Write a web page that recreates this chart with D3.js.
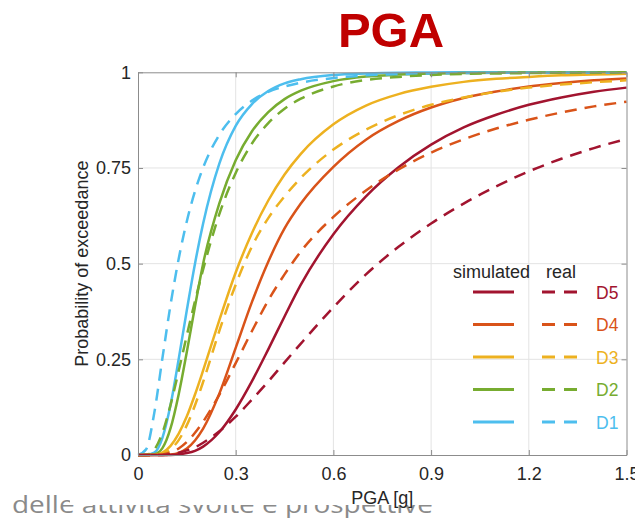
<!DOCTYPE html>
<html>
<head>
<meta charset="utf-8">
<script src="https://cdn.jsdelivr.net/npm/d3@7"></script>
<style>
	body { margin: 0; background: #fff; }
	svg { display: block; }
	.tick text { font-family: "Liberation Sans", Arial, sans-serif; }
</style>
</head>
<body>
<div id="graphicContainer"></div>
<script>

// PGA values along the x axis (g)
var pga = [0, 0.025, 0.05, 0.075, 0.1, 0.125, 0.15, 0.175, 0.2, 0.25, 0.3, 0.35, 0.4, 0.45, 0.5, 0.6, 0.7, 0.8, 0.9, 1.0, 1.1, 1.2, 1.3, 1.4, 1.5];

// probability of exceedance, simulated (solid) and real (dashed)
var d1Sim  = [0, 0, 0.006, 0.045, 0.131, 0.251, 0.379, 0.5, 0.605, 0.762, 0.86, 0.917, 0.951, 0.971, 0.982, 0.993, 0.997, 0.999, 0.9995, 1, 1, 1, 1, 1, 1];
var d1Real = [0, 0.015, 0.11, 0.253, 0.393, 0.513, 0.611, 0.689, 0.751, 0.837, 0.891, 0.926, 0.949, 0.963, 0.973, 0.985, 0.992, 0.995, 0.997, 0.998, 0.999, 0.999, 0.999, 0.999, 0.999];
var d2Sim  = [0, 0, 0.002, 0.018, 0.07, 0.159, 0.27, 0.388, 0.5, 0.658, 0.77, 0.846, 0.896, 0.93, 0.952, 0.977, 0.989, 0.994, 0.997, 0.998, 0.999, 0.9994, 0.9997, 0.9998, 0.9999];
var d2Real = [0, 0.0005, 0.014, 0.058, 0.131, 0.22, 0.313, 0.402, 0.485, 0.63, 0.737, 0.814, 0.867, 0.905, 0.931, 0.963, 0.98, 0.988, 0.993, 0.996, 0.997, 0.998, 0.999, 0.999, 0.9995];
var d3Sim  = [0, 0, 0.0007, 0.0064, 0.024, 0.056, 0.101, 0.158, 0.221, 0.353, 0.477, 0.58, 0.665, 0.733, 0.787, 0.864, 0.913, 0.943, 0.962, 0.975, 0.983, 0.988, 0.992, 0.994, 0.996];
var d3Real = [0, 0, 0.0002, 0.003, 0.015, 0.039, 0.078, 0.13, 0.191, 0.325, 0.445, 0.545, 0.619, 0.676, 0.724, 0.798, 0.85, 0.888, 0.915, 0.934, 0.949, 0.96, 0.968, 0.974, 0.979];
var d4Sim  = [0, 0, 0, 0, 0.0013, 0.0057, 0.017, 0.038, 0.069, 0.161, 0.28, 0.4, 0.505, 0.592, 0.657, 0.753, 0.824, 0.873, 0.908, 0.933, 0.95, 0.963, 0.972, 0.979, 0.984];
var d4Real = [0, 0, 0.0002, 0.0016, 0.0066, 0.017, 0.034, 0.058, 0.087, 0.158, 0.24, 0.324, 0.404, 0.472, 0.532, 0.622, 0.691, 0.746, 0.79, 0.825, 0.853, 0.876, 0.895, 0.911, 0.923];
var d5Sim  = [0, 0, 0, 0, 0.0003, 0.0015, 0.005, 0.011, 0.022, 0.06, 0.119, 0.193, 0.276, 0.362, 0.445, 0.577, 0.676, 0.752, 0.811, 0.856, 0.889, 0.915, 0.934, 0.949, 0.96];
var d5Real = [0, 0, 0, 0, 0.002, 0.006, 0.012, 0.02, 0.032, 0.062, 0.1, 0.145, 0.192, 0.242, 0.291, 0.386, 0.472, 0.544, 0.605, 0.657, 0.702, 0.741, 0.774, 0.802, 0.826];

var stateNames = ["D1", "D2", "D3", "D4", "D5"];
var stateColors = ["#4dbeee", "#77ac30", "#edb120", "#d95319", "#a2142f"];

var xTicks = [0, 0.3, 0.6, 0.9, 1.2, 1.5];
var yTicks = [0, 0.25, 0.5, 0.75, 1];

var states = [
	{name: "D1", sim: d1Sim, real: d1Real},
	{name: "D2", sim: d2Sim, real: d2Real},
	{name: "D3", sim: d3Sim, real: d3Real},
	{name: "D4", sim: d4Sim, real: d4Real},
	{name: "D5", sim: d5Sim, real: d5Real}
];

function makeChart() {

	var width = 635, height = 518;
	var margin = {top: 72.3, right: 8.5, bottom: 63, left: 138};

	var svg = d3.select("#graphicContainer").append("svg")
		.attr("width", width)
		.attr("height", height);

	// slide text sitting behind the chart image
	svg.append("text")
		.attr("x", 12)
		.attr("y", 513)
		.attr("font-family", "'Open Sans', sans-serif")
		.attr("font-size", 24)
		.attr("fill", "#8a8a8a")
		.attr("textLength", 421)
		.attr("lengthAdjust", "spacingAndGlyphs")
		.text("delle attività svolte e prospettive");

	svg.append("rect")
		.attr("x", 70).attr("y", 0)
		.attr("width", width - 70).attr("height", 505)
		.attr("fill", "#fff");

	var x = d3.scaleLinear()
		.domain([0, 1.5])
		.range([margin.left, width - margin.right]);

	var y = d3.scaleLinear()
		.domain([0, 1])
		.range([height - margin.bottom, margin.top]);

	var color = d3.scaleOrdinal()
		.domain(stateNames)
		.range(stateColors);

	// title
	svg.append("text")
		.attr("x", 391)
		.attr("y", 47)
		.attr("text-anchor", "middle")
		.attr("font-family", "'Liberation Sans', Arial, sans-serif")
		.attr("font-weight", "bold")
		.attr("font-size", 49)
		.attr("fill", "#c00000")
		.text("PGA");

	// grid
	var grid = svg.append("g").attr("stroke", "#e3e3e3").attr("stroke-width", 1);

	grid.selectAll(".gx")
		.data(xTicks.slice(1, -1))
		.enter().append("line")
		.attr("x1", d => x(d)).attr("x2", d => x(d))
		.attr("y1", y(0)).attr("y2", y(1));

	grid.selectAll(".gy")
		.data(yTicks.slice(1, -1))
		.enter().append("line")
		.attr("y1", d => y(d)).attr("y2", d => y(d))
		.attr("x1", x(0)).attr("x2", x(1.5));

	// curves
	var line = d3.line()
		.x((d, i) => x(pga[i]))
		.y(d => y(d))
		.curve(d3.curveMonotoneX);

	var curves = svg.append("g")
		.attr("fill", "none")
		.attr("stroke-width", 2.5)
		.attr("stroke-linejoin", "round");

	states.forEach(s => {
		curves.append("path")
			.attr("d", line(s.sim))
			.attr("stroke", color(s.name));
	});

	states.forEach(s => {
		curves.append("path")
			.attr("d", line(s.real))
			.attr("stroke", color(s.name))
			.attr("stroke-dasharray", "12,8");
	});

	// axes box with inward ticks
	var fmt = d3.format("~g");
	var axisColor = "#8c8c8c";

	var gx = svg.append("g")
		.attr("transform", "translate(0," + y(0) + ")")
		.call(d3.axisBottom(x).tickValues(xTicks).tickFormat(fmt).tickSizeInner(-5).tickSizeOuter(0).tickPadding(12));

	var gy = svg.append("g")
		.attr("transform", "translate(" + x(0) + ",0)")
		.call(d3.axisLeft(y).tickValues(yTicks).tickFormat(fmt).tickSizeInner(-5).tickSizeOuter(0).tickPadding(7));

	var gt = svg.append("g")
		.attr("transform", "translate(0," + y(1) + ")")
		.call(d3.axisTop(x).tickValues(xTicks).tickFormat("").tickSizeInner(-5).tickSizeOuter(0));

	var gr = svg.append("g")
		.attr("transform", "translate(" + x(1.5) + ",0)")
		.call(d3.axisRight(y).tickValues(yTicks).tickFormat("").tickSizeInner(-5).tickSizeOuter(0));

	[gx, gy, gt, gr].forEach(g => {
		g.select(".domain").attr("stroke", axisColor);
		g.selectAll(".tick line").attr("stroke", axisColor);
		g.selectAll(".tick text").attr("fill", "#262626").attr("font-size", 18);
	});

	// axis titles
	svg.append("text")
		.attr("transform", "translate(88," + ((y(0) + y(1)) / 2) + ") rotate(-90)")
		.attr("text-anchor", "middle")
		.attr("font-family", "'Liberation Sans', Arial, sans-serif")
		.attr("font-size", 18)
		.attr("fill", "#262626")
		.text("Probability of exceedance");

	svg.append("text")
		.attr("x", (x(0) + x(1.5)) / 2)
		.attr("y", 504)
		.attr("text-anchor", "middle")
		.attr("font-family", "'Liberation Sans', Arial, sans-serif")
		.attr("font-size", 18)
		.attr("fill", "#262626")
		.text("PGA [g]");

	// legend
	var legend = svg.append("g")
		.attr("font-family", "'Liberation Sans', Arial, sans-serif");

	legend.append("text")
		.attr("x", 453).attr("y", 278)
		.attr("font-size", 18).attr("fill", "#262626")
		.text("simulated");

	legend.append("text")
		.attr("x", 546).attr("y", 278)
		.attr("font-size", 18).attr("fill", "#262626")
		.text("real");

	var ly = d3.scalePoint()
		.domain(["D5", "D4", "D3", "D2", "D1"])
		.range([292, 422]);

	var rows = legend.selectAll(".row")
		.data(ly.domain())
		.enter().append("g")
		.attr("transform", d => "translate(0," + ly(d) + ")");

	rows.append("line")
		.attr("x1", 473).attr("x2", 514)
		.attr("stroke", d => color(d))
		.attr("stroke-width", 2.8);

	rows.append("line")
		.attr("x1", 542).attr("x2", 577)
		.attr("stroke", d => color(d))
		.attr("stroke-width", 2.8)
		.attr("stroke-dasharray", "13,9");

	rows.append("text")
		.attr("x", 596).attr("y", 6.5)
		.attr("font-size", 17.5)
		.attr("fill", d => color(d))
		.text(d => d);
}

makeChart();

</script>
</body>
</html>
